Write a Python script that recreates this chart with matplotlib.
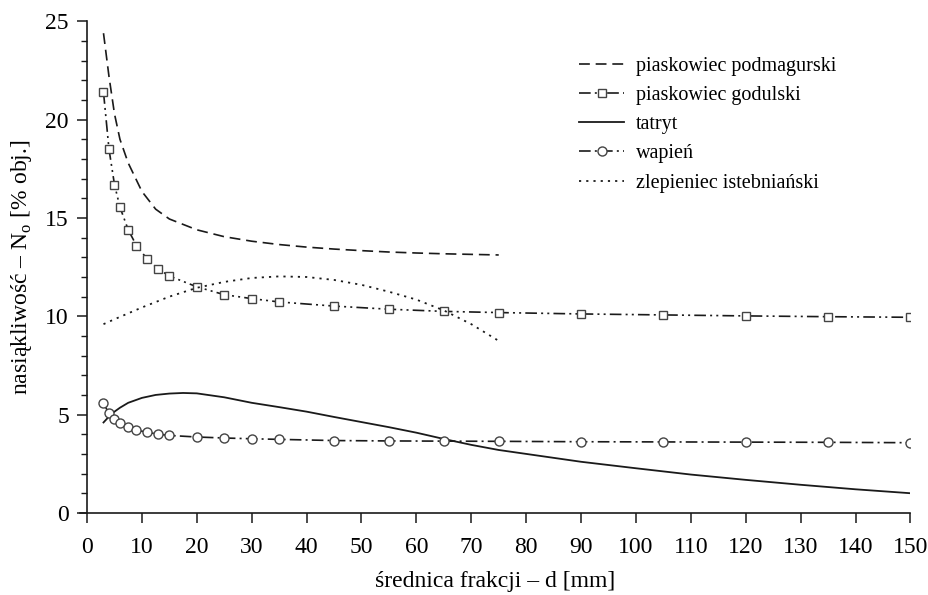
import numpy as np
import matplotlib
matplotlib.use("Agg")
import matplotlib.pyplot as plt
from matplotlib.ticker import MultipleLocator

plt.rcParams['font.family'] = ['Liberation Serif', 'DejaVu Serif']
plt.rcParams['mathtext.fontset'] = 'custom'
plt.rcParams['mathtext.rm'] = 'Liberation Serif'

# piaskowiec podmagurski (krzywa)
x_podm = [3, 4, 5, 6, 7.5, 10, 12.5, 15, 20, 25, 30, 35, 40, 45, 50, 55, 60, 65, 70, 75]
y_podm = [24.4, 22.2, 20.3, 19.0, 17.8, 16.35, 15.45, 14.95, 14.4, 14.05, 13.82, 13.65,
          13.52, 13.42, 13.34, 13.27, 13.22, 13.18, 13.15, 13.12]

# punkty pomiarowe (godulski, wapień)
x_pts = [3, 4, 5, 6, 7.5, 9, 11, 13, 15, 20, 25, 30, 35, 45, 55, 65, 75, 90, 105, 120, 135, 150]
y_godul = [21.4, 18.5, 16.7, 15.55, 14.4, 13.6, 12.9, 12.4, 12.05, 11.5, 11.1, 10.9, 10.73,
           10.52, 10.36, 10.25, 10.19, 10.12, 10.07, 10.02, 9.98, 9.95]
y_wap = [5.57, 5.06, 4.77, 4.55, 4.35, 4.21, 4.1, 4.0, 3.94, 3.86, 3.81, 3.77, 3.74,
         3.68, 3.66, 3.65, 3.64, 3.62, 3.61, 3.6, 3.59, 3.57]

# tatryt
x_tat = [3, 4, 5, 6, 7.5, 10, 12.5, 15, 17.5, 20, 25, 30, 35, 40, 45, 50, 55, 60, 65, 70,
         75, 80, 85, 90, 100, 110, 120, 130, 140, 150]
y_tat = [4.6, 4.9, 5.15, 5.35, 5.6, 5.85, 6.0, 6.07, 6.1, 6.08, 5.88, 5.6, 5.38, 5.15,
         4.88, 4.62, 4.36, 4.08, 3.76, 3.46, 3.2, 3.0, 2.8, 2.6, 2.27, 1.95, 1.68, 1.43,
         1.2, 1.0]

# zlepieniec istebniański
x_zlep = [3, 5, 7.5, 10, 15, 20, 25, 30, 35, 40, 45, 50, 55, 60, 65, 70, 75]
y_zlep = [9.6, 9.85, 10.15, 10.45, 11.0, 11.45, 11.75, 11.95, 12.03, 12.0, 11.85, 11.6,
          11.25, 10.85, 10.3, 9.6, 8.75]

col = '#1a1a1a'
mcol = '#444444'


def main():
    fig = plt.figure(figsize=(9.29, 5.95), dpi=100)
    ax = fig.add_axes([0.086, 0.138, 0.894, 0.826])

    ax.plot(x_podm, y_podm, color=col, lw=1.2, dashes=(6.5, 3.5),
            label='piaskowiec podmagurski')
    ax.plot(x_pts, y_godul, color=col, lw=1.2, dashes=(7, 2.5, 1.2, 2.5, 1.2, 2.5),
            marker='s', ms=5.5, mfc='white', mec=mcol, mew=1.0,
            label='piaskowiec godulski')
    ax.plot(x_tat, y_tat, color=col, lw=1.3, label='tatryt')
    ax.plot(x_pts, y_wap, color=col, lw=1.2, dashes=(7, 2.5, 1.2, 2.5),
            marker='o', ms=6.5, mfc='white', mec=mcol, mew=1.0,
            label='wapień')
    ax.plot(x_zlep, y_zlep, color=col, lw=1.3, dashes=(1.2, 2.8),
            label='zlepieniec istebniański')

    ax.set_xlim(-1.3, 150)
    ax.set_ylim(0, 25)
    ax.spines['left'].set_position(('data', 0))
    ax.spines['top'].set_visible(False)
    ax.spines['right'].set_visible(False)
    for s in ('left', 'bottom'):
        ax.spines[s].set_linewidth(1.2)
        ax.spines[s].set_color(col)

    ax.xaxis.set_major_locator(MultipleLocator(10))
    ax.yaxis.set_major_locator(MultipleLocator(5))
    ax.yaxis.set_minor_locator(MultipleLocator(1))
    ax.tick_params(which='major', direction='out', length=7, width=1.1, color=col,
                   labelsize=17, pad=6)
    ax.tick_params(axis='x', which='major', pad=10)
    ax.tick_params(which='minor', direction='out', length=4.5, width=1.0, color=col)

    ax.set_xlabel('średnica frakcji – d [mm]', fontsize=17, labelpad=10)
    ax.set_ylabel('nasiąkliwość – N$_\\mathrm{o}$ [% obj.]', fontsize=17, labelpad=8)

    ax.legend(loc='upper left', bbox_to_anchor=(0.615, 0.918), bbox_transform=fig.transFigure,
              frameon=False, fontsize=14.5, handlelength=2.2, handletextpad=0.6,
              labelspacing=0.5, borderaxespad=0)

    fig.savefig('out.png', dpi=100)
    plt.close(fig)


if __name__ == "__main__":
    main()
